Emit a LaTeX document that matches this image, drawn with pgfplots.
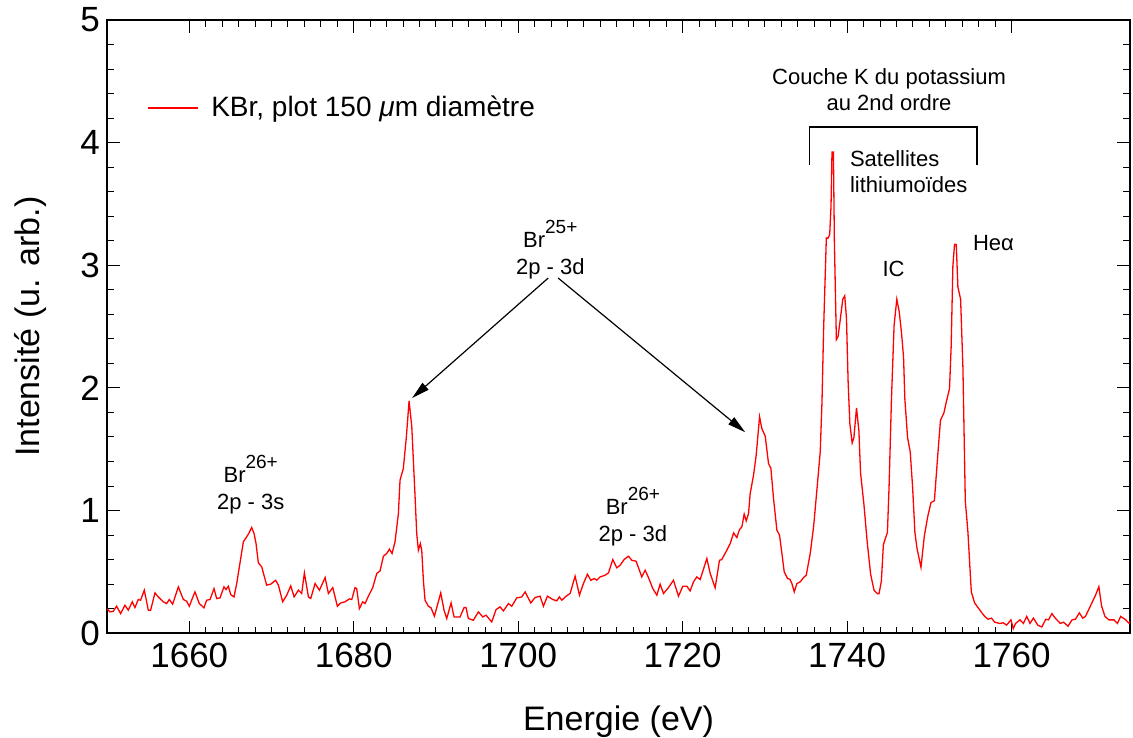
\documentclass[border=0pt]{standalone}
\usepackage{fontspec}
\setmainfont{Liberation Sans}
\usepackage{pgfplots}
\pgfplotsset{compat=1.18}
\usetikzlibrary{arrows.meta}
\newcommand{\ionsup}[1]{\raisebox{0.62em}{\fontsize{9.5}{10}\selectfont #1}}

\begin{document}
\begin{tikzpicture}
\useasboundingbox (-53.5pt,-52pt) rectangle (512.8pt,316.5pt);
\begin{axis}[
  at={(0pt,0pt)}, anchor=south west,
  scale only axis, width=511.3pt, height=306.5pt,
  xmin=1650, xmax=1774.4, ymin=0, ymax=5,
  xtick={1660,1680,...,1760}, minor x tick num=9,
  ytick={0,1,...,5}, minor y tick num=4,
  major tick length=6.3pt, minor tick length=3.3pt,
  tick style={line width=0.5pt, black},
  axis line style={line width=0.75pt},
  /pgf/number format/assume math mode=true,
  /pgf/number format/1000 sep={},
  tick label style={font=\fontsize{17.5}{20}\selectfont},
  xticklabel style={yshift=-1.5pt},
  label style={font=\fontsize{17}{20}\selectfont},
  xlabel={Energie (eV)},
  ylabel={Intensité (u. arb.)},
  xlabel style={at={(axis description cs:0.5,-0.158)}, anchor=base},
  ylabel style={at={(axis description cs:-0.075,0.5)}, anchor=center},
  legend style={at={(axis description cs:0.039,0.8565)}, anchor=west, draw=none, fill=none,
    inner sep=0pt, outer sep=0pt, font=\fontsize{14}{16}\selectfont},
  legend cell align=left,
  legend image code/.code={\draw[#1] (0pt,0pt) -- (25pt,0pt); \path (29.5pt,0pt);},
]
\addplot[red, line width=0.65pt] coordinates {
(1650.00,0.200) (1650.35,0.174) (1650.76,0.179) (1651.16,0.220) (1651.65,0.160)
(1652.18,0.228) (1652.58,0.188) (1653.07,0.256) (1653.39,0.209) (1653.80,0.275)
(1654.08,0.269) (1654.53,0.351) (1655.02,0.188) (1655.30,0.188) (1655.83,0.329)
(1656.23,0.296) (1656.84,0.256) (1657.25,0.242) (1657.57,0.275) (1657.98,0.237)
(1658.67,0.378) (1659.28,0.275) (1659.68,0.261) (1660.00,0.220) (1660.69,0.337)
(1661.22,0.242) (1661.79,0.207) (1662.11,0.269) (1662.52,0.275) (1663.01,0.364)
(1663.33,0.283) (1663.74,0.288) (1664.22,0.378) (1664.47,0.356) (1664.75,0.383)
(1665.04,0.315) (1665.44,0.296) (1665.77,0.405) (1666.09,0.541) (1666.58,0.745)
(1666.98,0.786) (1667.23,0.813) (1667.59,0.862) (1667.88,0.813) (1668.12,0.731)
(1668.40,0.574) (1668.81,0.541) (1669.41,0.392) (1669.90,0.400) (1670.51,0.432)
(1670.84,0.392) (1671.36,0.256) (1671.85,0.310) (1672.34,0.386) (1672.75,0.296)
(1673.27,0.351) (1673.67,0.324) (1674.00,0.492) (1674.49,0.296) (1674.77,0.283)
(1675.30,0.405) (1675.83,0.351) (1676.52,0.454) (1676.92,0.324) (1677.45,0.372)
(1678.01,0.220) (1678.42,0.247) (1678.94,0.256) (1679.47,0.280) (1679.76,0.275)
(1680.16,0.372) (1680.36,0.364) (1680.69,0.201) (1681.09,0.256) (1681.38,0.242)
(1681.78,0.302) (1682.31,0.372) (1682.80,0.487) (1683.20,0.508) (1683.61,0.628)
(1684.01,0.650) (1684.34,0.685) (1684.66,0.650) (1685.02,0.745) (1685.43,0.976)
(1685.63,1.248) (1686.03,1.343) (1686.40,1.600) (1686.73,1.895) (1687.06,1.683)
(1687.46,1.112) (1687.66,0.813) (1687.86,0.677) (1688.10,0.731) (1688.27,0.677)
(1688.47,0.432) (1688.67,0.269) (1689.08,0.220) (1689.40,0.207) (1689.81,0.139)
(1690.58,0.329) (1690.98,0.188) (1691.31,0.120) (1691.84,0.247) (1692.20,0.133)
(1692.93,0.133) (1693.42,0.209) (1693.65,0.209) (1693.94,0.120) (1694.55,0.106)
(1695.16,0.174) (1695.69,0.133) (1696.09,0.147) (1696.78,0.092) (1697.31,0.193)
(1697.80,0.215) (1698.20,0.182) (1698.81,0.242) (1699.22,0.220) (1699.82,0.288)
(1700.43,0.296) (1700.84,0.337) (1701.53,0.247) (1702.05,0.291) (1702.66,0.302)
(1703.07,0.220) (1703.55,0.302) (1704.20,0.275) (1704.69,0.264) (1705.01,0.296)
(1705.30,0.269) (1705.83,0.302) (1706.31,0.324) (1706.92,0.465) (1707.45,0.310)
(1707.93,0.405) (1708.42,0.481) (1708.83,0.432) (1709.27,0.446) (1709.55,0.432)
(1709.96,0.459) (1710.57,0.473) (1710.98,0.492) (1711.50,0.601) (1711.99,0.533)
(1712.40,0.555) (1712.88,0.601) (1713.41,0.628) (1713.81,0.595) (1714.34,0.587)
(1715.03,0.459) (1715.44,0.514) (1715.84,0.454) (1716.37,0.364) (1716.86,0.310)
(1717.26,0.400) (1717.67,0.324) (1718.28,0.372) (1718.88,0.432) (1719.49,0.302)
(1720.02,0.383) (1720.51,0.383) (1720.91,0.345) (1721.32,0.419) (1721.72,0.459)
(1722.13,0.438) (1722.94,0.609) (1723.35,0.487) (1723.95,0.370) (1724.48,0.595)
(1724.75,0.600) (1725.37,0.677) (1725.78,0.731) (1726.19,0.818) (1726.59,0.780)
(1726.92,0.846) (1727.20,0.867) (1727.48,0.971) (1727.73,0.916) (1728.01,0.976)
(1728.21,1.139) (1728.62,1.289) (1728.94,1.452) (1729.10,1.574) (1729.35,1.765)
(1729.63,1.669) (1730.04,1.607) (1730.44,1.384) (1730.73,1.343) (1731.05,1.098)
(1731.46,0.840) (1731.78,0.799) (1732.07,0.650) (1732.35,0.500) (1732.76,0.446)
(1733.05,0.440) (1733.28,0.405) (1733.57,0.337) (1733.89,0.405) (1734.30,0.419)
(1734.70,0.454) (1735.03,0.473) (1735.51,0.650) (1735.92,0.867) (1736.32,1.166)
(1736.73,1.480) (1736.94,1.880) (1737.14,2.480) (1737.35,2.951) (1737.47,3.223)
(1737.67,3.220) (1737.88,3.251) (1738.04,3.480) (1738.16,3.923) (1738.33,3.923)
(1738.45,3.194) (1738.69,2.394) (1738.90,2.420) (1739.18,2.566) (1739.47,2.723)
(1739.71,2.751) (1739.92,2.566) (1740.12,2.051) (1740.33,1.709) (1740.61,1.551)
(1740.82,1.594) (1741.14,1.837) (1741.43,1.651) (1741.63,1.309) (1742.04,1.051)
(1742.45,0.737) (1742.86,0.480) (1743.27,0.351) (1743.67,0.323) (1743.88,0.323)
(1744.16,0.423) (1744.41,0.723) (1744.90,0.823) (1745.10,1.194) (1745.39,1.909)
(1745.71,2.509) (1746.04,2.723) (1746.33,2.623) (1746.61,2.451) (1746.86,2.251)
(1747.02,1.909) (1747.35,1.594) (1747.67,1.480) (1747.96,1.194) (1748.24,0.823)
(1748.49,0.694) (1748.98,0.537) (1749.39,0.794) (1749.80,0.951) (1750.20,1.066)
(1750.61,1.080) (1751.02,1.451) (1751.35,1.737) (1751.76,1.794) (1752.04,1.880)
(1752.45,1.994) (1752.65,2.337) (1752.86,2.994) (1753.06,3.171) (1753.27,3.170)
(1753.47,2.823) (1753.80,2.723) (1754.08,2.166) (1754.37,1.080) (1754.69,0.823)
(1755.10,0.337) (1755.51,0.246) (1755.92,0.209) (1756.33,0.171) (1756.73,0.137)
(1757.14,0.114) (1757.55,0.123) (1757.96,0.089) (1758.57,0.080) (1758.98,0.085)
(1759.39,0.066) (1759.92,0.109) (1760.20,0.037) (1760.49,0.080) (1761.02,0.109)
(1761.43,0.080) (1761.84,0.137) (1762.24,0.080) (1762.65,0.123) (1763.18,0.066)
(1763.67,0.051) (1764.16,0.114) (1764.49,0.109) (1764.90,0.160) (1765.31,0.123)
(1765.92,0.080) (1766.33,0.090) (1766.86,0.057) (1767.35,0.109) (1767.76,0.114)
(1768.24,0.166) (1768.65,0.123) (1768.98,0.137) (1769.59,0.223) (1770.20,0.309)
(1770.61,0.380) (1770.94,0.223) (1771.35,0.137) (1771.84,0.109) (1772.45,0.109)
(1772.86,0.080) (1773.27,0.137) (1773.88,0.109) (1774.29,0.080) (1774.69,0.123)
};
\addlegendentry{KBr, plot 150 \textit{μ}m diamètre}

% annotations
\begin{scope}[every node/.style={font=\fontsize{11}{13}\selectfont, inner sep=0pt}]
\node[anchor=base] at (axis cs:1667.47,1.229) {Br\ionsup{26+}};
\node[anchor=base] at (axis cs:1667.47,1.009) {2p - 3s};
\node[anchor=base] at (axis cs:1713.95,0.971) {Br\ionsup{26+}};
\node[anchor=base] at (axis cs:1713.95,0.750) {2p - 3d};
\node[anchor=base] at (axis cs:1703.9,3.148) {Br\ionsup{25+}};
\node[anchor=base] at (axis cs:1703.9,2.928) {2p - 3d};
\node[anchor=base] at (axis cs:1745.1,4.476) {Couche K du potassium};
\node[anchor=base] at (axis cs:1745.1,4.266) {au 2nd ordre};
\node[anchor=base west] at (axis cs:1740.3,3.809) {Satellites};
\node[anchor=base west] at (axis cs:1740.3,3.595) {lithiumoïdes};
\node[anchor=base] at (axis cs:1745.64,2.906) {IC};
\node[anchor=base west] at (axis cs:1755.26,3.118) {Heα};
\end{scope}
\draw[line width=0.6pt, -{Triangle[length=9pt,width=4.5pt]}] (axis cs:1703.65,2.896) -- (axis cs:1687.09,1.917);
\draw[line width=0.6pt, -{Triangle[length=9pt,width=4.5pt]}] (axis cs:1704.86,2.896) -- (axis cs:1727.6,1.639);
\draw[line width=0.6pt] (axis cs:1735.4,3.82) |- (axis cs:1755.8,4.127) -- (axis cs:1755.8,3.82);
\end{axis}
\end{tikzpicture}
\end{document}
